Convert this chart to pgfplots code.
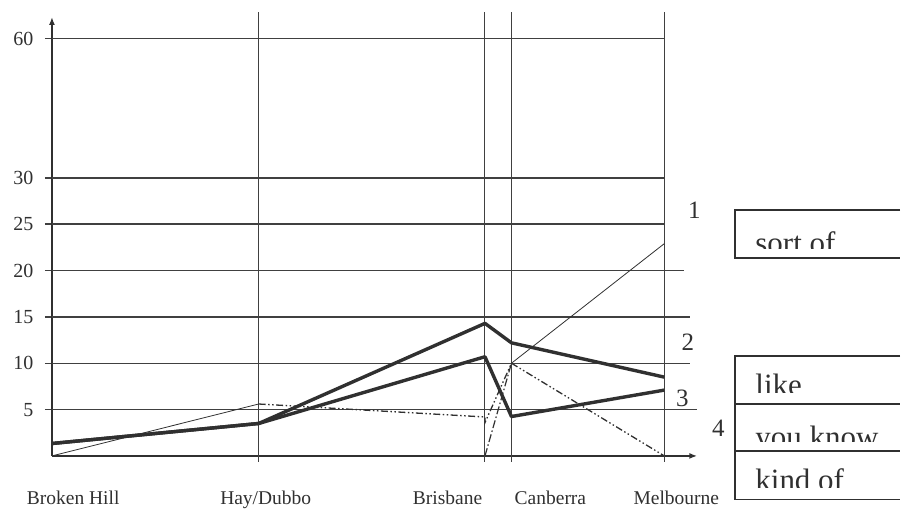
\documentclass[border=0pt]{standalone}
\usepackage{pgfplots}
\pgfplotsset{compat=1.18}
\usepackage{fontspec}
\setmainfont{Liberation Serif}
\usetikzlibrary{arrows.meta}
\definecolor{ink}{HTML}{303030}
\definecolor{gridc}{HTML}{404040}

\begin{document}
\begin{tikzpicture}
\begin{axis}[
  scale only axis, width=646pt, height=439.4pt,
  xmin=0, xmax=6.46, ymin=0, ymax=47.35,
  axis x line=bottom, axis y line=left,
  axis line style={ink, line width=1.9pt, -{Latex[length=8pt,width=6pt]}},
  clip=false,
  ytick={5,10,15,20,25,30,45}, yticklabels={5,10,15,20,25,30,60},
  ytick align=outside, major tick length=7pt,
  ytick style={gridc, line width=1.4pt},
  xtick={0.213,2.14,3.96,4.99,6.25},
  xticklabels={Broken Hill,Hay/Dubbo,Brisbane,Canberra,Melbourne},
  xtick style={draw=none},
  xticklabel style={anchor=base, yshift=-45.3pt, font=\fontsize{19.5}{19.5}\selectfont, text=ink},
  yticklabel style={font=\fontsize{20}{20}\selectfont, xshift=-8pt, text=ink},
  /pgf/number format/assume math mode=true,
]
% grid lines
\draw[gridc, line width=1.4pt] (axis cs:0,45) -- (axis cs:6.13,45);
\draw[gridc, line width=1.4pt] (axis cs:0,30) -- (axis cs:6.13,30);
\draw[gridc, line width=1.4pt] (axis cs:0,25) -- (axis cs:6.13,25);
\draw[gridc, line width=1.4pt] (axis cs:0,20) -- (axis cs:6.33,20);
\draw[gridc, line width=1.4pt] (axis cs:0,15) -- (axis cs:6.39,15);
\draw[gridc, line width=1.4pt] (axis cs:0,10) -- (axis cs:6.39,10);
\draw[gridc, line width=1.4pt] (axis cs:0,5) -- (axis cs:6.46,5);
\draw[gridc, line width=1.4pt] (axis cs:2.07,-0.65) -- (axis cs:2.07,47.9);
\draw[gridc, line width=1.4pt] (axis cs:4.333,-0.65) -- (axis cs:4.333,47.9);
\draw[gridc, line width=1.4pt] (axis cs:4.6,-0.65) -- (axis cs:4.6,47.9);
\draw[gridc, line width=1.4pt] (axis cs:6.13,-0.65) -- (axis cs:6.13,47.9);

% series
\addplot[ink, line width=3.4pt, line join=round, mark=none] coordinates {(0,1.34) (2.07,3.5) (4.335,14.3) (4.6,12.2) (6.13,8.5)};
\addplot[ink, line width=3.4pt, line join=round, mark=none] coordinates {(0,1.34) (2.07,3.5) (4.335,10.7) (4.6,4.25) (6.13,7.1)};
\addplot[ink, line width=0.8pt, mark=none] coordinates {(0,0) (2.07,5.6)};
\addplot[ink, line width=0.8pt, mark=none] coordinates {(4.6,10) (6.13,22.9)};
\addplot[ink, line width=1.2pt, mark=none, dash pattern=on 8pt off 2.5pt on 1.5pt off 2.5pt] coordinates {(4.335,0) (4.6,10)};
\addplot[ink, line width=1.3pt, mark=none, dash pattern=on 7pt off 2.5pt on 1.5pt off 2.5pt on 1.5pt off 2.5pt] coordinates {(2.07,5.6) (4.335,4.2) (4.335,3.6) (4.6,10) (6.13,0)};

% series numbers
\node[font=\fontsize{25}{25}\selectfont, text=ink] at (axis cs:6.43,26.55) {1};
\node[font=\fontsize{25}{25}\selectfont, text=ink] at (axis cs:6.365,12.27) {2};
\node[font=\fontsize{25}{25}\selectfont, text=ink] at (axis cs:6.31,6.19) {3};
\node[font=\fontsize{25}{25}\selectfont, text=ink] at (axis cs:6.67,3.0) {4};

\coordinate (O) at (axis cs:0,0);
\end{axis}

\begin{scope}[shift={(O)}]
\begin{scope}[shift={(-52pt,456.4pt)}, x=1pt, y=-1pt]
\path (0,0) rectangle (901,506);
% upper box
\draw[ink, line width=1.9pt] (901,210) -- (736,210) -- (736,258.5) -- (901,258.5);
\begin{scope}
\clip (737,211) rectangle (901,248.3);
\node[anchor=base west, inner sep=0pt, font=\fontsize{31}{31}\selectfont, text=ink] at (756,253.5) {sort of};
\end{scope}
% lower box
\draw[ink, line width=1.9pt] (901,356) -- (736,356) -- (736,500) -- (901,500);
\draw[ink, line width=1.9pt] (736,404) -- (901,404);
\draw[ink, line width=1.9pt] (736,451.7) -- (901,451.7);
\begin{scope}
\clip (737,357) rectangle (901,393.3);
\node[anchor=base west, inner sep=0pt, font=\fontsize{31}{31}\selectfont, text=ink] at (756,396.2) {like};
\end{scope}
\begin{scope}
\clip (737,405) rectangle (901,441.7);
\node[anchor=base west, inner sep=0pt, font=\fontsize{31}{31}\selectfont, text=ink] at (756,447.8) {you know};
\end{scope}
\begin{scope}
\clip (737,453) rectangle (901,488.3);
\node[anchor=base west, inner sep=0pt, font=\fontsize{31}{31}\selectfont, text=ink] at (756,491.2) {kind of};
\end{scope}
\end{scope}
\end{scope}
\end{tikzpicture}
\end{document}
